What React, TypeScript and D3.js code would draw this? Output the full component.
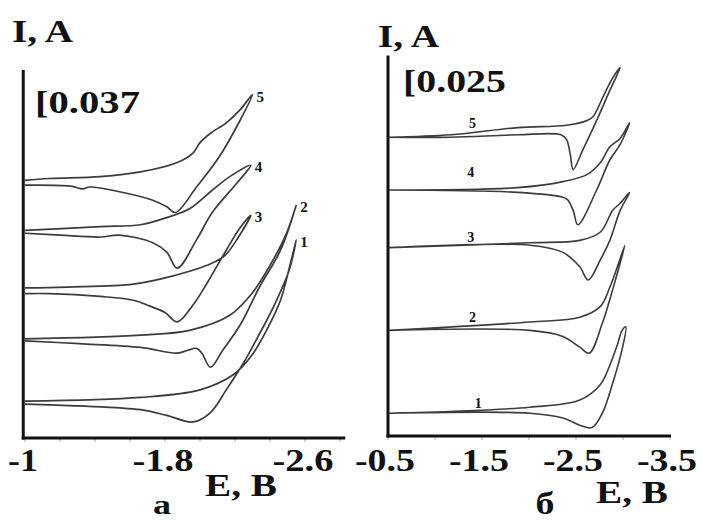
import * as d3 from "d3";

type Pt = [number, number]; // [E, V ; I, mA] — curves are stacked with offsets

// panel а: forward scan (to the vertex) and reverse scan (back to start)
const a5Fwd: Pt[] = [[-1.0, 273], [-1.14, 275], [-1.43, 277], [-1.66, 282], [-1.87, 292], [-1.96, 302], [-2.0, 313], [-2.06, 323], [-2.15, 334], [-2.23, 348], [-2.3, 364]];
const a5Rev: Pt[] = [[-2.23, 337], [-2.11, 298], [-1.98, 266], [-1.86, 239], [-1.81, 245], [-1.73, 252], [-1.54, 261], [-1.37, 266], [-1.33, 264], [-1.26, 267], [-1.0, 268]];
const a4Fwd: Pt[] = [[-1.0, 220], [-1.43, 224], [-1.66, 226], [-1.8, 233], [-1.94, 243], [-2.06, 261], [-2.17, 277], [-2.29, 289]];
const a4Rev: Pt[] = [[-2.21, 270], [-2.07, 239], [-1.98, 210], [-1.87, 180], [-1.81, 197], [-1.73, 207], [-1.54, 215], [-1.43, 213], [-1.2, 215], [-1.0, 217]];
const a3Fwd: Pt[] = [[-1.0, 159], [-1.24, 160], [-1.62, 163], [-1.85, 172], [-2.04, 183], [-2.14, 193], [-2.22, 213], [-2.29, 236]];
const a3Rev: Pt[] = [[-2.23, 223], [-2.15, 199], [-2.04, 164], [-1.96, 141], [-1.87, 123], [-1.8, 133], [-1.71, 140], [-1.62, 146], [-1.43, 150], [-1.14, 153], [-1.0, 153]];
const a2Fwd: Pt[] = [[-1.0, 105], [-1.66, 109], [-1.94, 114], [-2.17, 130], [-2.3, 154], [-2.4, 183], [-2.49, 215], [-2.55, 247]];
const a2Rev: Pt[] = [[-2.46, 199], [-2.34, 160], [-2.23, 120], [-2.13, 93], [-2.06, 75], [-2.01, 90], [-1.98, 95], [-1.93, 93], [-1.87, 90], [-1.66, 96], [-1.31, 100], [-1.0, 103]];
const a1Fwd: Pt[] = [[-1.0, 39], [-1.66, 43], [-2.0, 51], [-2.19, 67], [-2.29, 86], [-2.38, 114], [-2.46, 146], [-2.51, 180], [-2.55, 210]];
const a1Rev: Pt[] = [[-2.51, 178], [-2.42, 139], [-2.33, 107], [-2.25, 80], [-2.15, 51], [-2.06, 27], [-1.96, 17], [-1.81, 24], [-1.66, 30], [-1.31, 34], [-1.0, 36]];

// panel б
const b5Fwd: Pt[] = [[-0.51, 249], [-1.17, 251], [-1.88, 257], [-2.4, 259], [-2.62, 263], [-2.68, 266], [-2.79, 283], [-2.88, 297], [-2.97, 307]];
const b5Rev: Pt[] = [[-2.86, 288], [-2.72, 263], [-2.57, 238], [-2.47, 222], [-2.44, 234], [-2.4, 247], [-2.34, 251], [-1.88, 251], [-1.17, 249], [-0.51, 249]];
const b4Fwd: Pt[] = [[-0.51, 205], [-1.88, 207], [-2.36, 212], [-2.62, 218], [-2.76, 228], [-2.86, 241], [-2.97, 248], [-3.07, 261]];
const b4Rev: Pt[] = [[-2.97, 243], [-2.86, 230], [-2.72, 205], [-2.52, 176], [-2.47, 188], [-2.41, 197], [-2.36, 199], [-1.88, 203], [-0.51, 205]];
const b3Fwd: Pt[] = [[-0.51, 157], [-2.01, 161], [-2.54, 163], [-2.76, 170], [-2.89, 188], [-2.97, 194], [-3.07, 203]];
const b3Rev: Pt[] = [[-2.97, 188], [-2.86, 163], [-2.76, 147], [-2.63, 130], [-2.54, 141], [-2.36, 153], [-2.01, 159], [-0.51, 157]];
const b2Fwd: Pt[] = [[-0.51, 88], [-2.01, 95], [-2.54, 99], [-2.76, 108], [-2.86, 124], [-2.94, 141], [-3.02, 159]];
const b2Rev: Pt[] = [[-2.89, 122], [-2.78, 94], [-2.64, 69], [-2.54, 74], [-2.36, 83], [-2.01, 88], [-0.51, 88]];
const b1Fwd: Pt[] = [[-0.51, 19], [-2.01, 24], [-2.54, 30], [-2.76, 43], [-2.86, 59], [-2.94, 76], [-2.99, 88], [-3.03, 91]];
const b1Rev: Pt[] = [[-2.99, 72], [-2.89, 44], [-2.78, 19], [-2.67, 7], [-2.54, 9], [-2.36, 15], [-2.01, 19], [-0.51, 19]];

const curvesA = [
  { n: "5", fwd: a5Fwd, rev: a5Rev },
  { n: "4", fwd: a4Fwd, rev: a4Rev },
  { n: "3", fwd: a3Fwd, rev: a3Rev },
  { n: "2", fwd: a2Fwd, rev: a2Rev },
  { n: "1", fwd: a1Fwd, rev: a1Rev }
];

// curve numbers in panel б sit above the baseline
const labelsB: Pt[] = [[-1.4, 257], [-1.38, 216], [-1.38, 162], [-1.4, 95], [-1.46, 23]];
const curvesB = [
  { n: "5", fwd: b5Fwd, rev: b5Rev, at: labelsB[0] },
  { n: "4", fwd: b4Fwd, rev: b4Rev, at: labelsB[1] },
  { n: "3", fwd: b3Fwd, rev: b3Rev, at: labelsB[2] },
  { n: "2", fwd: b2Fwd, rev: b2Rev, at: labelsB[3] },
  { n: "1", fwd: b1Fwd, rev: b1Rev, at: labelsB[4] }
];

const ticksA = [-1, -1.8, -2.6];
const minorA = [-1.2, -1.4, -1.6, -2.0, -2.2, -2.4, -2.8];
const ticksB = [-0.5, -1.5, -2.5, -3.5];
const minorB = [-1, -2, -3];
const scaleBarA = "0.037";
const scaleBarB = "0.025";

const serif = "'Liberation Serif', 'Times New Roman', Times, serif";

function Big({ x, y, w, anchor = "start", size = 31, children }: { x: number; y: number; w: number; anchor?: string; size?: number; children: string }) {
  return (
    <text
      x={x}
      y={y}
      style={{ fontFamily: serif, fontSize: size, fontWeight: 700 }}
      textLength={w}
      lengthAdjust="spacingAndGlyphs"
      textAnchor={anchor}
    >
      {children}
    </text>
  );
}

export default function App() {
  const xA = d3.scaleLinear([-1, -2.8], [25, 340]);
  const yA = d3.scaleLinear([0, 390], [438, 70]);
  const xB = d3.scaleLinear([-0.5, -3.5], [388, 670]);
  const yB = d3.scaleLinear([0, 320], [436, 52]);
  const lineA = d3.line<Pt>().x(d => xA(d[0])).y(d => yA(d[1])).curve(d3.curveCatmullRom.alpha(0.5));
  const lineB = d3.line<Pt>().x(d => xB(d[0])).y(d => yB(d[1])).curve(d3.curveCatmullRom.alpha(0.5));
  const fmt = (v: number) => String(v);

  return (
    <svg width={702} height={522} style={{ position: "absolute", left: 0, top: 0, background: "#fff", fontFamily: serif }} fill="#111">
      {/* panel а */}
      <g>
        {minorA.concat(ticksA).map(t => (
          <line key={t} x1={xA(t)} x2={xA(t)} y1={yA(0)} y2={yA(0) + 4} stroke="#aaa" strokeWidth={1} />
        ))}
        <line x1={xA(-0.99)} x2={xA(-0.99)} y1={yA(390)} y2={yA(0) + 1.5} stroke="#111" strokeWidth={3} />
        <line x1={xA(-0.99) - 1.5} x2={xA(-2.83)} y1={yA(0)} y2={yA(0)} stroke="#111" strokeWidth={3} />
        {curvesA.map(c => {
          const tip = c.fwd[c.fwd.length - 1];
          return (
            <g key={c.n}>
              <path d={lineA([...c.fwd, ...c.rev]) ?? undefined} fill="none" stroke="#3c3c3c" strokeWidth={1.7} />
              <text x={xA(tip[0]) + 4} y={yA(tip[1]) + 7} style={{ fontFamily: serif, fontSize: 15, fontWeight: 700 }}>{c.n}</text>
            </g>
          );
        })}
        <Big x={12} y={42} w={61}>I, A</Big>
        <Big x={35} y={113} w={105}>{`[${scaleBarA}`}</Big>
        {ticksA.map(t => (
          <Big key={t} x={xA(t) - 2} y={471} w={fmt(t).length === 2 ? 30 : 61} anchor="middle">{fmt(t)}</Big>
        ))}
        <Big x={205} y={496} w={72}>E, B</Big>
        <Big x={162} y={514} w={18} size={28} anchor="middle">а</Big>
      </g>

      {/* panel б */}
      <g>
        {minorB.concat(ticksB).map(t => (
          <line key={t} x1={xB(t)} x2={xB(t)} y1={yB(0)} y2={yB(0) + 4} stroke="#aaa" strokeWidth={1} />
        ))}
        <line x1={xB(-0.5)} x2={xB(-0.5)} y1={yB(317)} y2={yB(0) + 1.5} stroke="#111" strokeWidth={3} />
        <line x1={xB(-0.5) - 1.5} x2={xB(-3.51)} y1={yB(0)} y2={yB(0)} stroke="#111" strokeWidth={3} />
        {curvesB.map(c => (
          <g key={c.n}>
            <path d={lineB([...c.fwd, ...c.rev]) ?? undefined} fill="none" stroke="#3c3c3c" strokeWidth={1.6} />
            <text x={xB(c.at[0])} y={yB(c.at[1])} style={{ fontFamily: serif, fontSize: 14, fontWeight: 700 }} textAnchor="middle">{c.n}</text>
          </g>
        ))}
        <Big x={378} y={47} w={61}>I, A</Big>
        <Big x={403} y={92} w={103}>{`[${scaleBarB}`}</Big>
        {ticksB.map(t => (
          <Big key={t} x={xB(t) - 3} y={471} w={60} anchor="middle">{fmt(t)}</Big>
        ))}
        <Big x={596} y={503} w={72}>E, B</Big>
        <Big x={545} y={514} w={19} anchor="middle">б</Big>
      </g>
    </svg>
  );
}
